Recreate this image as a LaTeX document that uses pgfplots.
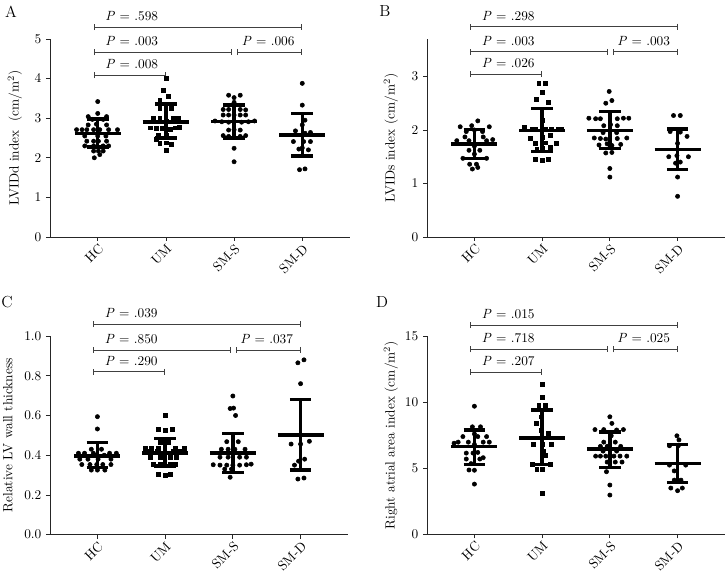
\documentclass[border=0pt]{standalone}
\usepackage{pgfplots}
\pgfplotsset{compat=1.18}
\usetikzlibrary{arrows.meta}

\pgfplotsset{
  dotplot/.style={
    scale only axis, clip=false,
    xmin=-0.7, xmax=3.7,
    xtick={0,1,2,3}, xticklabels={HC,UM,SM-S,SM-D},
    axis x line=bottom, axis y line=left,
    axis line style={-, line width=0.6pt, black!85},
    tick align=outside, major tick length=3pt,
    tick style={line width=0.6pt, black!85},
    tick label style={font=\fontsize{10}{12}\selectfont},
    xticklabel style={rotate=45, anchor=north east, inner sep=1pt},
    label style={font=\fontsize{10}{12}\selectfont},
  },
  pts/.style={only marks, mark=*, mark size=1.6pt, black},
  sqs/.style={only marks, mark=square*, mark size=1.45pt, black},
  ms/.style={black, line width=2.6pt, mark=none},
}
\tikzset{
  bk/.style={line width=0.6pt, black!75, {Bar[width=4.5pt]}-{Bar[width=4.5pt]}},
  pt/.style={anchor=base, yshift=5pt, inner sep=0pt, font=\fontsize{10}{12}\selectfont},
  lt/.style={font=\fontsize{12}{14}\selectfont},
}
% x, xl, xr, capl, capr, mean, lo, hi
\newcommand{\msd}[8]{%
  \addplot[ms] coordinates {(#2,#6) (#3,#6)};
  \addplot[ms] coordinates {(#1,#7) (#1,#8)};
  \addplot[ms] coordinates {(#4,#8) (#5,#8)};
  \addplot[ms] coordinates {(#4,#7) (#5,#7)};
}

\begin{document}
\begin{tikzpicture}
\useasboundingbox (0,0) rectangle (544.5pt,436.5pt);

% ---------------- A ----------------
\begin{axis}[dotplot, at={(37.5pt,258.75pt)}, anchor=south west,
  width=225pt, height=148.5pt, ymin=0, ymax=5, ytick={0,1,2,3,4,5},
  ylabel={LVIDd index\ \ (cm/m$^2$)},
  ylabel style={at={(axis description cs:-0.117,0.5)}, anchor=center}]
\addplot[pts] table {
x y
0 3.42
0 3.12
-0.14 3.04
0.13 3.04
-0.08 2.97
0.08 2.97
-0.14 2.83
-0.02 2.85
0.13 2.83
-0.31 2.71
-0.23 2.71
-0.16 2.71
-0.06 2.71
0.03 2.71
0.16 2.71
0.29 2.71
-0.19 2.55
0 2.55
0.12 2.55
-0.16 2.42
-0.06 2.42
0.01 2.42
0.13 2.42
-0.19 2.30
-0.06 2.30
0.08 2.30
0.16 2.30
-0.06 2.17
0.01 2.17
0.08 2.17
0.03 2.08
-0.05 2.00
};
\addplot[sqs] table {
x y
1 4.00
0.96 3.70
1.03 3.56
0.91 3.46
0.91 3.25
1.08 3.25
0.81 3.00
0.91 3.00
1.11 3.00
1.18 3.00
1.0 2.92
0.77 2.76
0.86 2.75
0.94 2.74
1.06 2.73
1.13 2.76
1.20 2.78
0.86 2.47
0.89 2.58
1.01 2.58
0.91 2.36
1.01 2.38
1.08 2.34
1.0 2.20
};
\addplot[pts] table {
x y
1.92 3.58
2.09 3.58
2.0 3.52
2.0 3.40
1.84 3.22
1.92 3.22
2.09 3.22
2.17 3.21
1.84 3.08
1.92 3.08
2.0 3.08
2.09 3.08
2.17 3.08
1.72 2.93
1.82 2.91
1.92 2.90
2.11 2.90
2.21 2.91
2.30 2.93
1.92 2.70
2.0 2.71
2.09 2.70
1.84 2.56
1.92 2.54
2.0 2.52
2.09 2.54
2.17 2.56
2.0 2.24
2.0 1.90
};
\addplot[pts] table {
x y
3 3.88
3 3.33
3.04 2.95
3.0 2.83
2.90 2.68
3.04 2.62
3.12 2.64
2.87 2.41
3.02 2.41
3.12 2.41
2.95 2.22
3.0 2.25
3.09 2.20
2.96 1.70
3.04 1.72
};
\msd{0}{-0.34}{0.34}{-0.16}{0.16}{2.62}{2.27}{2.98}
\msd{1}{0.66}{1.34}{0.84}{1.16}{2.90}{2.50}{3.36}
\msd{2}{1.66}{2.34}{1.84}{2.16}{2.92}{2.50}{3.33}
\msd{3}{2.66}{3.34}{2.84}{3.16}{2.58}{2.05}{3.12}
\draw[bk] (axis cs:-0.06,5.3) -- (axis cs:3,5.3);
\draw[bk] (axis cs:-0.06,4.67) -- (axis cs:1.97,4.67);
\draw[bk] (axis cs:2.04,4.67) -- (axis cs:3,4.67);
\draw[bk] (axis cs:-0.06,4.09) -- (axis cs:1,4.09);
\node[pt] at (axis cs:0.5,5.3) {\textit{P} = .598};
\node[pt] at (axis cs:0.5,4.67) {\textit{P} = .003};
\node[pt] at (axis cs:2.5,4.67) {\textit{P} = .006};
\node[pt] at (axis cs:0.5,4.09) {\textit{P} = .008};
\end{axis}

% ---------------- B ----------------
\begin{axis}[dotplot, at={(320.25pt,258.75pt)}, anchor=south west,
  width=223.5pt, height=148.5pt, ymin=0, ymax=3.7, ytick={0,1,2,3},
  ylabel={LVIDs index (cm/m$^2$)},
  ylabel style={at={(axis description cs:-0.121,0.5)}, anchor=center}]
\addplot[pts] table {
x y
0.05 2.17
-0.21 2.06
-0.04 2.08
0.22 2.06
-0.12 1.97
0.12 1.97
0 2.00
-0.14 1.87
0.13 1.87
-0.26 1.80
-0.08 1.80
0.18 1.80
0.27 1.82
0 1.70
-0.08 1.62
0.08 1.62
0 1.55
-0.17 1.47
0.18 1.47
-0.07 1.36
0.03 1.36
-0.03 1.27
0.05 1.30
};
\addplot[sqs] table {
x y
0.95 2.87
1.05 2.87
1.0 2.70
0.91 2.57
1.09 2.52
1.0 2.18
0.74 2.05
0.85 2.02
0.90 2.02
1.04 2.02
1.14 2.02
1.24 2.02
1.29 2.02
0.82 1.85
1.0 1.87
1.12 1.90
0.90 1.75
1.04 1.76
1.21 1.75
0.92 1.65
1.0 1.66
1.12 1.67
0.90 1.46
1.0 1.43
1.09 1.45
};
\addplot[pts] table {
x y
1.99 2.72
2.03 2.55
1.94 2.50
1.69 2.22
1.79 2.21
1.86 2.21
2.11 2.21
2.20 2.22
2.28 2.22
1.91 2.08
2.01 2.10
2.11 2.08
1.90 1.95
2.10 1.95
1.77 1.85
1.86 1.84
1.94 1.83
2.11 1.84
2.25 1.85
1.84 1.72
1.96 1.74
2.03 1.71
2.16 1.73
1.94 1.57
2.03 1.58
2.0 1.28
2.0 1.12
};
\addplot[pts] table {
x y
2.94 2.27
3.04 2.27
2.89 1.97
3.04 1.96
3.14 1.88
3.0 1.75
2.87 1.50
2.99 1.52
3.16 1.50
2.97 1.38
3.04 1.40
3.0 1.12
3.0 0.76
};
\msd{0}{-0.34}{0.34}{-0.16}{0.16}{1.74}{1.47}{2.01}
\msd{1}{0.66}{1.34}{0.84}{1.16}{1.99}{1.60}{2.40}
\msd{2}{1.66}{2.34}{1.84}{2.16}{1.99}{1.65}{2.35}
\msd{3}{2.66}{3.34}{2.84}{3.16}{1.64}{1.26}{2.02}
\draw[bk] (axis cs:-0.06,3.93) -- (axis cs:3,3.93);
\draw[bk] (axis cs:-0.06,3.46) -- (axis cs:1.97,3.46);
\draw[bk] (axis cs:2.04,3.46) -- (axis cs:3,3.46);
\draw[bk] (axis cs:-0.06,3.04) -- (axis cs:1,3.04);
\node[pt] at (axis cs:0.5,3.93) {\textit{P} = .298};
\node[pt] at (axis cs:0.5,3.46) {\textit{P} = .003};
\node[pt] at (axis cs:2.5,3.46) {\textit{P} = .003};
\node[pt] at (axis cs:0.5,3.04) {\textit{P} = .026};
\end{axis}

% ---------------- C ----------------
\begin{axis}[dotplot, at={(37.5pt,35.5pt)}, anchor=south west,
  width=223.5pt, height=149pt, ymin=0, ymax=1.0, ytick={0,0.2,0.4,0.6,0.8,1.0},
  yticklabel style={/pgf/number format/.cd, fixed, fixed zerofill, precision=1},
  ylabel={Relative LV wall thickness},
  ylabel style={at={(axis description cs:-0.141,0.5)}, anchor=center}]
\addplot[pts] table {
x y
0 0.594
0 0.532
-0.09 0.43
0.06 0.43
-0.28 0.41
-0.19 0.41
-0.06 0.41
0.18 0.41
0.28 0.41
-0.04 0.40
0.10 0.40
-0.26 0.38
-0.14 0.38
0.01 0.38
0.20 0.38
-0.23 0.353
-0.11 0.353
-0.01 0.353
0.08 0.353
0.20 0.353
-0.09 0.325
0 0.325
0.11 0.325
};
\addplot[sqs] table {
x y
1 0.60
0.90 0.53
1.0 0.525
1.10 0.53
0.93 0.465
1.05 0.465
0.71 0.437
0.80 0.437
0.90 0.437
1.15 0.437
1.28 0.437
0.73 0.418
0.88 0.418
1.12 0.418
1.22 0.42
0.78 0.39
0.93 0.39
1.07 0.39
1.17 0.39
0.83 0.356
0.93 0.356
1.07 0.356
1.15 0.356
0.90 0.305
1.0 0.30
1.07 0.305
};
\addplot[pts] table {
x y
2.0 0.698
1.96 0.635
2.01 0.637
2.04 0.60
1.91 0.468
2.08 0.468
1.83 0.43
1.93 0.43
2.03 0.43
2.18 0.43
1.81 0.39
1.93 0.39
2.10 0.39
2.20 0.39
1.71 0.352
1.81 0.35
1.91 0.35
2.0 0.35
2.10 0.35
2.20 0.352
2.27 0.355
1.88 0.33
1.98 0.33
1.96 0.289
};
\addplot[pts] table {
x y
3.05 0.88
2.96 0.865
3.0 0.76
3.13 0.47
2.86 0.456
3.0 0.456
2.97 0.37
3.06 0.38
2.91 0.35
2.96 0.28
3.05 0.285
};
\msd{0}{-0.34}{0.34}{-0.16}{0.16}{0.396}{0.339}{0.465}
\msd{1}{0.66}{1.34}{0.84}{1.16}{0.41}{0.346}{0.485}
\msd{2}{1.66}{2.34}{1.84}{2.16}{0.41}{0.312}{0.51}
\msd{3}{2.66}{3.34}{2.84}{3.16}{0.502}{0.325}{0.68}
\draw[bk] (axis cs:-0.06,1.06) -- (axis cs:3,1.06);
\draw[bk] (axis cs:-0.06,0.93) -- (axis cs:1.97,0.93);
\draw[bk] (axis cs:2.04,0.93) -- (axis cs:3,0.93);
\draw[bk] (axis cs:-0.06,0.82) -- (axis cs:1,0.82);
\node[pt] at (axis cs:0.5,1.06) {\textit{P} = .039};
\node[pt] at (axis cs:0.5,0.93) {\textit{P} = .850};
\node[pt] at (axis cs:2.5,0.93) {\textit{P} = .037};
\node[pt] at (axis cs:0.5,0.82) {\textit{P} = .290};
\end{axis}

% ---------------- D ----------------
\begin{axis}[dotplot, at={(320.25pt,35.8pt)}, anchor=south west,
  width=223.5pt, height=148.5pt, ymin=0, ymax=15, ytick={0,5,10,15},
  ylabel={Right atrial area index (cm/m$^2$)},
  ylabel style={at={(axis description cs:-0.121,0.5)}, anchor=center}]
\addplot[pts] table {
x y
0 9.7
-0.03 8.14
0.09 8.14
0 7.6
-0.17 7.4
0.05 7.4
0.18 7.4
-0.24 6.98
-0.09 6.98
0.13 6.98
0.22 6.98
-0.30 6.9
0.0 6.8
-0.12 6.15
-0.02 6.15
0.05 6.2
-0.12 5.7
0.08 5.7
0.13 5.8
-0.05 5.35
-0.08 4.87
0 4.85
0 3.8
};
\addplot[sqs] table {
x y
1 11.35
1 10.36
0.95 9.78
1.04 9.78
0.99 8.9
0.91 8.4
0.99 7.89
1.09 7.64
0.87 6.83
1.0 6.83
1.13 6.83
1.02 6.3
1.04 6.0
0.85 5.3
1.12 5.3
0.92 4.9
1.0 4.9
1.0 3.1
};
\addplot[pts] table {
x y
2.0 8.9
2.03 8.4
1.78 7.93
1.91 7.93
2.10 7.9
2.20 7.93
2.02 7.46
1.91 6.98
2.08 6.98
1.86 6.66
1.96 6.66
2.16 6.66
1.90 6.3
2.10 6.3
1.79 5.92
1.86 5.92
1.94 5.92
2.06 5.92
2.15 5.92
2.25 5.92
1.96 5.47
2.08 5.47
2.18 5.47
1.95 4.74
2.0 3.73
2.0 2.97
};
\addplot[pts] table {
x y
2.99 7.46
3.02 7.15
2.88 6.7
3.01 6.7
2.88 5.24
3.12 5.24
2.95 4.8
2.95 4.1
3.05 4.1
2.90 3.5
3.07 3.5
3.0 3.3
};
\msd{0}{-0.34}{0.34}{-0.16}{0.16}{6.63}{5.30}{7.89}
\msd{1}{0.66}{1.34}{0.84}{1.16}{7.31}{5.30}{9.40}
\msd{2}{1.66}{2.34}{1.84}{2.16}{6.45}{5.07}{7.76}
\msd{3}{2.66}{3.34}{2.84}{3.16}{5.37}{3.93}{6.81}
\draw[bk] (axis cs:-0.06,15.85) -- (axis cs:3,15.85);
\draw[bk] (axis cs:-0.06,14.0) -- (axis cs:1.97,14.0);
\draw[bk] (axis cs:2.04,14.0) -- (axis cs:3,14.0);
\draw[bk] (axis cs:-0.06,12.3) -- (axis cs:1,12.3);
\node[pt] at (axis cs:0.5,15.85) {\textit{P} = .015};
\node[pt] at (axis cs:0.5,14.0) {\textit{P} = .718};
\node[pt] at (axis cs:2.5,14.0) {\textit{P} = .025};
\node[pt] at (axis cs:0.5,12.3) {\textit{P} = .207};
\end{axis}

\node[lt] at (8.25pt,427.5pt) {A};
\node[lt] at (288.75pt,428.25pt) {B};
\node[lt] at (5.25pt,210pt) {C};
\node[lt] at (286.5pt,210pt) {D};
\end{tikzpicture}
\end{document}
